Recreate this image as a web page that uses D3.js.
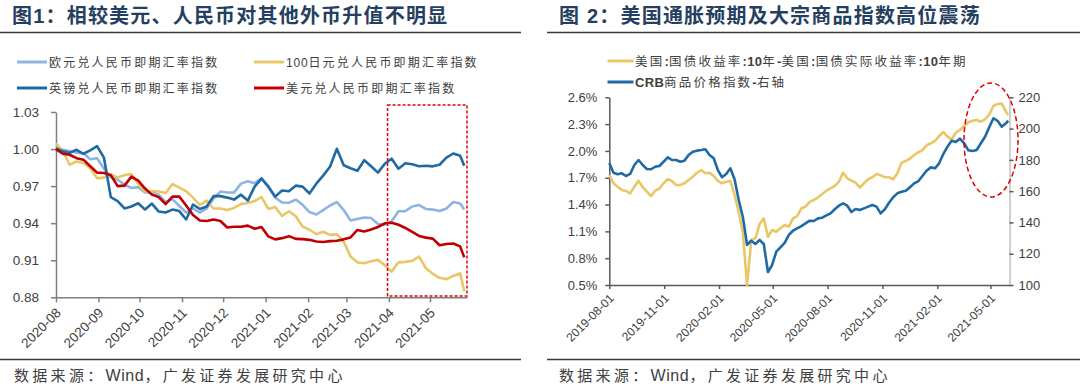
<!DOCTYPE html>
<html><head><meta charset="utf-8">
<script src="https://cdn.jsdelivr.net/npm/d3@7"></script>
<style>body{margin:0;background:#fff}svg{display:block}</style>
</head><body><svg id="c" width="1080" height="391"></svg>
<script>
// ---------- DATA ----------
const fxDates = ["2020-08-01","2020-08-06","2020-08-11","2020-08-16","2020-08-21","2020-08-26","2020-08-31","2020-09-05","2020-09-10","2020-09-15",
"2020-09-20","2020-09-25","2020-09-30","2020-10-05","2020-10-10","2020-10-15","2020-10-20","2020-10-25","2020-10-30","2020-11-04",
"2020-11-09","2020-11-14","2020-11-19","2020-11-24","2020-11-29","2020-12-04","2020-12-09","2020-12-14","2020-12-19","2020-12-24",
"2020-12-29","2021-01-03","2021-01-08","2021-01-13","2021-01-18","2021-01-23","2021-01-28","2021-02-02","2021-02-07","2021-02-12",
"2021-02-17","2021-02-22","2021-02-27","2021-03-04","2021-03-09","2021-03-14","2021-03-19","2021-03-24","2021-03-29","2021-04-03",
"2021-04-08","2021-04-13","2021-04-18","2021-04-23","2021-04-28","2021-05-03","2021-05-08","2021-05-13","2021-05-18","2021-05-23","2021-05-26"];
const eurIdx = [1.0021,0.9994,0.9985,0.9970,0.9966,0.9918,0.9926,0.9841,0.9773,0.9752,0.9712,0.9685,0.9692,0.9648,0.9648,0.9631,0.9571,0.9595,0.9539,0.9486,
0.9519,0.9486,0.9519,0.9599,0.9656,0.9648,0.9648,0.9720,0.9740,0.9724,0.9765,0.9688,0.9607,0.9567,0.9565,0.9591,0.9549,0.9490,0.9470,0.9506,
0.9543,0.9571,0.9506,0.9422,0.9434,0.9446,0.9442,0.9394,0.9388,0.9415,0.9497,0.9497,0.9535,0.9547,0.9515,0.9510,0.9498,0.9519,0.9571,0.9559,0.9510];
const jpyIdx = [1.0048,0.9982,0.9873,0.9900,0.9887,0.9845,0.9763,0.9769,0.9797,0.9769,0.9789,0.9798,0.9720,0.9656,0.9660,0.9656,0.9644,0.9716,0.9688,0.9658,
0.9607,0.9547,0.9583,0.9519,0.9519,0.9506,0.9523,0.9555,0.9563,0.9579,0.9611,0.9515,0.9531,0.9458,0.9497,0.9456,0.9373,0.9347,0.9311,0.9331,
0.9305,0.9311,0.9251,0.9131,0.9083,0.9075,0.9091,0.9103,0.9059,0.9008,0.9083,0.9087,0.9095,0.9130,0.9035,0.8990,0.8958,0.8946,0.8973,0.8994,0.8849];
const gbpIdx = [1.0006,0.9982,0.9969,0.9994,0.9962,0.9990,1.0023,0.9930,0.9611,0.9579,0.9519,0.9535,0.9561,0.9510,0.9559,0.9494,0.9486,0.9510,0.9498,0.9430,
0.9551,0.9515,0.9535,0.9619,0.9619,0.9607,0.9591,0.9631,0.9583,0.9696,0.9760,0.9698,0.9615,0.9664,0.9658,0.9704,0.9696,0.9640,0.9720,0.9785,
0.9857,1.0002,0.9869,0.9845,0.9825,0.9910,0.9861,0.9809,0.9881,0.9922,0.9841,0.9885,0.9877,0.9861,0.9865,0.9860,0.9873,0.9930,0.9964,0.9946,0.9865];
const usdIdx = [1.0000,0.9962,0.9954,0.9926,0.9914,0.9861,0.9809,0.9806,0.9789,0.9700,0.9704,0.9777,0.9744,0.9680,0.9631,0.9611,0.9555,0.9615,0.9615,0.9543,
0.9466,0.9422,0.9418,0.9430,0.9418,0.9365,0.9371,0.9371,0.9380,0.9355,0.9369,0.9293,0.9269,0.9279,0.9295,0.9273,0.9271,0.9265,0.9252,0.9248,
0.9255,0.9258,0.9269,0.9285,0.9345,0.9333,0.9349,0.9369,0.9399,0.9403,0.9387,0.9361,0.9329,0.9297,0.9283,0.9275,0.9221,0.9232,0.9236,0.9212,0.9123];

const usDates = ["2019-08-01","2019-08-08","2019-08-15","2019-08-22","2019-08-29","2019-09-05","2019-09-12","2019-09-19","2019-09-26","2019-10-03",
"2019-10-10","2019-10-17","2019-10-24","2019-10-31","2019-11-07","2019-11-14","2019-11-21","2019-11-28","2019-12-05","2019-12-12",
"2019-12-19","2019-12-26","2020-01-02","2020-01-09","2020-01-16","2020-01-23","2020-01-30","2020-02-06","2020-02-13","2020-02-20",
"2020-02-27","2020-03-05","2020-03-12","2020-03-19","2020-03-26","2020-04-02","2020-04-09","2020-04-16","2020-04-23","2020-04-30",
"2020-05-07","2020-05-14","2020-05-21","2020-05-28","2020-06-04","2020-06-11","2020-06-18","2020-06-25","2020-07-02","2020-07-09",
"2020-07-16","2020-07-23","2020-07-30","2020-08-06","2020-08-13","2020-08-20","2020-08-27","2020-09-03","2020-09-10","2020-09-17",
"2020-09-24","2020-10-01","2020-10-08","2020-10-15","2020-10-22","2020-10-29","2020-11-05","2020-11-12","2020-11-19","2020-11-26",
"2020-12-03","2020-12-10","2020-12-17","2020-12-24","2020-12-31","2021-01-07","2021-01-14","2021-01-21","2021-01-28","2021-02-04",
"2021-02-11","2021-02-18","2021-02-25","2021-03-04","2021-03-11","2021-03-18","2021-03-25","2021-04-01","2021-04-08","2021-04-15",
"2021-04-22","2021-04-29","2021-05-06","2021-05-13","2021-05-20","2021-05-27","2021-05-31"];
const breakeven = [1.731,1.638,1.600,1.563,1.552,1.526,1.600,1.667,1.593,1.544,1.496,1.555,1.578,1.638,1.683,1.664,1.619,1.619,1.638,1.675,
1.712,1.756,1.787,1.750,1.756,1.720,1.664,1.638,1.656,1.664,1.507,1.320,1.078,0.500,1.003,1.022,1.182,1.246,1.040,1.115,
1.096,1.134,1.171,1.152,1.245,1.270,1.358,1.376,1.429,1.451,1.481,1.518,1.555,1.582,1.608,1.656,1.756,1.694,1.667,1.645,
1.589,1.638,1.683,1.705,1.742,1.727,1.705,1.705,1.683,1.750,1.868,1.887,1.913,1.954,1.985,2.010,2.063,2.085,2.111,2.167,
2.212,2.159,2.130,2.204,2.234,2.279,2.320,2.338,2.346,2.327,2.354,2.405,2.503,2.525,2.531,2.439,2.402];
const crbIdx = [178.0,171.8,170.8,171.4,169.7,171.0,176.7,179.9,176.7,174.2,174.0,175.6,176.1,178.8,181.6,179.9,179.9,178.8,179.5,183.1,
185.2,185.9,186.3,186.8,183.1,181.0,173.5,168.9,171.0,174.6,167.6,154.3,143.3,125.6,128.3,126.2,128.8,126.2,108.3,112.8,
121.3,124.1,127.0,132.0,134.7,136.2,137.7,139.4,141.1,140.9,142.6,143.0,144.5,145.8,148.4,150.7,152.2,150.7,146.7,148.6,
147.9,149.0,150.1,151.1,150.1,145.8,148.4,152.6,156.1,158.6,159.6,160.3,162.4,165.0,166.3,169.7,173.1,175.2,174.6,177.8,
183.7,188.4,192.3,191.4,193.6,190.6,186.1,185.7,186.3,190.6,194.8,200.8,206.6,205.0,201.2,203.4,205.0];

const fxYTicks = [0.88,0.91,0.94,0.97,1.00,1.03];
const fxXTicks = ["2020-08-01","2020-09-01","2020-10-01","2020-11-01","2020-12-01","2021-01-01","2021-02-01","2021-03-01","2021-04-01","2021-05-01"];
const beTicks = [0.5,0.8,1.1,1.4,1.7,2.0,2.3,2.6];
const crbTicks = [100,120,140,160,180,200,220];
const usXTicks = ["2019-08-01","2019-11-01","2020-02-01","2020-05-01","2020-08-01","2020-11-01","2021-02-01","2021-05-01"];

const titles = ["图1：相较美元、人民币对其他外币升值不明显","图 2：美国通胀预期及大宗商品指数高位震荡"];
const sourceText = "数据来源：Wind，广发证券发展研究中心";
const fxNames = ["欧元兑人民币即期汇率指数","100日元兑人民币即期汇率指数","英镑兑人民币即期汇率指数","美元兑人民币即期汇率指数"];
const usNames = ["美国:国债收益率:10年-美国:国债实际收益率:10年期","CRB商品价格指数-右轴"];
const highlightStart = "2021-03-31";
const ellipseCenter = {date:"2021-05-02", crb:192.7};

// ---------- DRAW ----------
const svg = d3.select("#c");
svg.append("rect").attr("width",1080).attr("height",391).attr("fill","#fff");
const parse = d3.timeParse("%Y-%m-%d");
const FONT = "'Liberation Sans','Noto Sans CJK SC',sans-serif";
const CJK = "'Noto Sans CJK SC',sans-serif";
const C = {eur:"#8db4e2", jpy:"#e9c666", gbp:"#1f6aa5", usd:"#c00000"};

function rich(sel, str, boldLatin, cjkLS, latLS, latSize){
  (str.match(/[\x00-\x7F]+|[^\x00-\x7F]+/g)||[]).forEach(s=>{
    const ascii = /^[\x00-\x7F]+$/.test(s);
    const ts = sel.append("tspan").text(s)
      .attr("font-family", ascii ? "'Liberation Sans',Arial,sans-serif" : CJK)
      .attr("font-weight", ascii && boldLatin ? 700 : 400)
      .attr("letter-spacing", ascii ? latLS : cjkLS);
    if (ascii && latSize) ts.attr("font-size", latSize);
  });
}

// headers & footers
const panelX = [{t:12, l0:0, l1:521, s:14},{t:559, l0:547, l1:1080, s:559}];
panelX.forEach((p,i)=>{
  svg.append("text").attr("x",p.t).attr("y",23).attr("font-family",FONT).attr("font-size",20)
    .attr("font-weight",700).attr("letter-spacing",1.2).attr("fill","#243f60").text(titles[i]);
  svg.append("line").attr("x1",p.l0).attr("x2",p.l1).attr("y1",32.5).attr("y2",32.5).attr("stroke","#3a3a3a").attr("stroke-width",1.5);
  svg.append("line").attr("x1",p.l0).attr("x2",p.l1).attr("y1",359.5).attr("y2",359.5).attr("stroke","#3a3a3a").attr("stroke-width",1.5);
  const ft = svg.append("text").attr("x",p.s).attr("y",381).attr("font-size",15).attr("fill","#404040");
  rich(ft, sourceText, false, 3.3, 0.6, 16);
});

// ---------- LEFT CHART ----------
const xL = d3.scaleTime().domain([parse("2020-08-01"), parse("2021-05-28")]).range([56,467]);
const yL = d3.scaleLinear().domain([0.88,1.03]).range([297.3,112]);
const fx = fxDates.map(parse);

function styleAxis(g, col){
  g.selectAll(".domain").attr("stroke",col).attr("stroke-width",1.5);
  g.selectAll(".tick line").attr("stroke",col).attr("stroke-width",1.5);
  g.selectAll("text").attr("fill","#404040").attr("font-family","'Liberation Sans',Arial,sans-serif");
}

const gyL = svg.append("g").attr("transform","translate(56,0)")
  .call(d3.axisLeft(yL).tickValues(fxYTicks).tickFormat(d3.format(".2f")).tickSize(5).tickSizeOuter(0).tickPadding(12));
styleAxis(gyL,"#7f7f7f"); gyL.selectAll("text").attr("font-size",13.5);

const gxL = svg.append("g").attr("transform","translate(0,297.3)")
  .call(d3.axisBottom(xL).tickValues(fxXTicks.map(parse)).tickFormat(d3.timeFormat("%Y-%m")).tickSize(5).tickSizeOuter(0));
styleAxis(gxL,"#7f7f7f");
gxL.selectAll("text").attr("font-size",13.5).attr("text-anchor","end").attr("x",0).attr("y",0)
  .attr("dy","0.35em").attr("transform","translate(2,13) rotate(-45)");

const fxSeries = [{v:eurIdx,c:C.eur},{v:jpyIdx,c:C.jpy},{v:gbpIdx,c:C.gbp},{v:usdIdx,c:C.usd}];
const lineL = d3.line().x((d,i)=>xL(fx[i])).y(d=>yL(d));
fxSeries.forEach(s=>{
  svg.append("path").attr("d",lineL(s.v)).attr("fill","none").attr("stroke",s.c)
    .attr("stroke-width",2.6).attr("stroke-linejoin","round");
});

// highlight box
const bx0 = xL(parse(highlightStart)), bx1 = xL.range()[1];
svg.append("rect").attr("x",bx0).attr("y",yL(1.0357)).attr("width",bx1-bx0).attr("height",yL(0.881)-yL(1.0357))
  .attr("fill","none").attr("stroke","#e00000").attr("stroke-width",1.5).attr("stroke-dasharray","3,2");

// left legend
const fxLegPos = [[17,62],[254,62],[17,88],[254,88]];
fxNames.forEach((n,i)=>{
  const [lx,ly] = fxLegPos[i];
  svg.append("line").attr("x1",lx).attr("x2",lx+30).attr("y1",ly).attr("y2",ly).attr("stroke",fxSeries[i].c).attr("stroke-width",3);
  const t = svg.append("text").attr("x",lx+32).attr("y",ly+4.5).attr("font-size",12).attr("fill","#404040");
  rich(t,n,false,2.2,0.8,null);
});

// ---------- RIGHT CHART ----------
const xR = d3.scaleTime().domain([parse("2019-08-01"), parse("2021-06-02")]).range([609.3,1009.5]);
const yBE = d3.scaleLinear().domain([0.5,2.6]).range([285,97.3]);
const yCRB = d3.scaleLinear().domain([100,220]).range([285,97.3]);
const ud = usDates.map(parse);

const gyR1 = svg.append("g").attr("transform","translate(609.3,0)")
  .call(d3.axisLeft(yBE).tickValues(beTicks).tickFormat(d=>d.toFixed(1)+"%").tickSize(4).tickSizeOuter(0).tickPadding(8));
styleAxis(gyR1,"#595959"); gyR1.selectAll("text").attr("font-size",13);

const gyR2 = svg.append("g").attr("transform","translate(1009.5,0)")
  .call(d3.axisRight(yCRB).tickValues(crbTicks).tickSize(4).tickSizeOuter(0).tickPadding(5));
styleAxis(gyR2,"#bfbfbf"); gyR2.selectAll(".tick line").attr("stroke","#595959");
gyR2.selectAll("text").attr("font-size",13);

const gxR = svg.append("g").attr("transform","translate(0,285)")
  .call(d3.axisBottom(xR).tickValues(usXTicks.map(parse)).tickFormat(d3.timeFormat("%Y-%m-%d")).tickSize(4).tickSizeOuter(0));
styleAxis(gxR,"#595959");
gxR.selectAll("text").attr("font-size",12).attr("text-anchor","end").attr("x",0).attr("y",0)
  .attr("dy","0.35em").attr("transform","translate(2,11) rotate(-45)");

svg.append("path").attr("d",d3.line().x((d,i)=>xR(ud[i])).y(d=>yBE(d))(breakeven))
  .attr("fill","none").attr("stroke",C.jpy).attr("stroke-width",2.6).attr("stroke-linejoin","round");
svg.append("path").attr("d",d3.line().x((d,i)=>xR(ud[i])).y(d=>yCRB(d))(crbIdx))
  .attr("fill","none").attr("stroke",C.gbp).attr("stroke-width",2.6).attr("stroke-linejoin","round");

svg.append("ellipse").attr("cx",xR(parse(ellipseCenter.date))).attr("cy",yCRB(ellipseCenter.crb))
  .attr("rx",27).attr("ry",57).attr("fill","none").attr("stroke","#e00000").attr("stroke-width",1.5).attr("stroke-dasharray","5,3");

// right legend
const usCols = [C.jpy, C.gbp];
usNames.forEach((n,i)=>{
  const ly = 61 + i*21;
  svg.append("line").attr("x1",607.5).attr("x2",633.5).attr("y1",ly).attr("y2",ly).attr("stroke",usCols[i]).attr("stroke-width",3);
  const t = svg.append("text").attr("x",635).attr("y",ly+4.5).attr("font-size",12.5).attr("fill","#404040");
  rich(t,n,true,2.2,0.3,13);
});
</script></body></html>
